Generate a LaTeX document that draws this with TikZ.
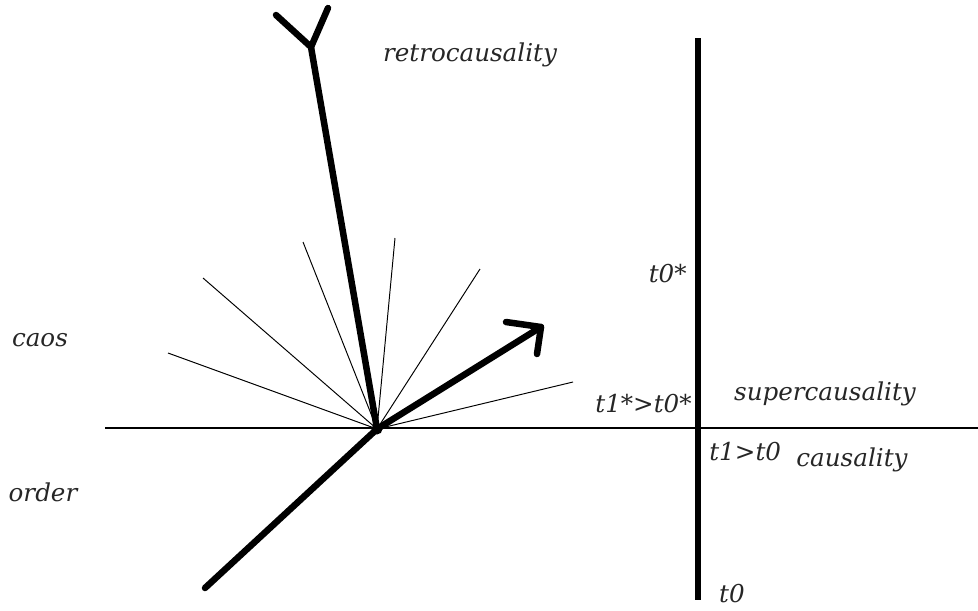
\documentclass[tikz,border=0pt]{standalone}
\usepackage{fontspec}
\setmainfont{DejaVu Serif}
\usetikzlibrary{positioning}

\begin{document}
\begin{tikzpicture}[x=0.02cm, y=-0.02cm,
        lbl/.style={font=\itshape\fontsize{14}{16}\selectfont, text=black!85, inner sep=0pt},
        heavy/.style={line width=3.7pt, line cap=round, line join=round},
        ray/.style={line width=0.55pt}]
    \useasboundingbox (0,0) rectangle (978,610);
    \coordinate (o) at (377,429);
    \coordinate (axl) at (105,428);
    \coordinate (axr) at (978,428);
    \coordinate (ttop) at (698,38);
    \coordinate (tbot) at (698,600);
    \coordinate (past) at (205,588);
    \coordinate (retro) at (311,47);
    \coordinate (yl) at (276,15);
    \coordinate (yr) at (328,8);
    \coordinate (fut) at (541,327);
    \coordinate (bl) at (506,322);
    \coordinate (bd) at (537,354);
    \coordinate (r1) at (168,353);
    \coordinate (r2) at (203,278);
    \coordinate (r3) at (303,242);
    \coordinate (r4) at (395,238);
    \coordinate (r5) at (480,269);
    \coordinate (r6) at (573,382);
    \draw[line width=0.8pt] (axl) -- (axr);
    \draw[line width=2.9pt] (ttop) -- (tbot);
    \foreach \r in {r1,r2,r3,r4,r5,r6}
        \draw[ray] (o) -- (\r);
    \draw[heavy] (past) -- (o);
    \draw[heavy] (o) -- (retro) -- (yl);
    \draw[heavy] (retro) -- (yr);
    \draw[heavy] (o) -- (fut);
    \draw[heavy] (bl) -- (fut) -- (bd);
    \fill (o) circle (5.5);
    \node[lbl] (retrolbl) at (470,55) {retrocausality};
    \node[lbl, anchor=east] (t0s) at (687,274) {t0*};
    \node[lbl] (caos) at (40,340) {caos};
    \node[lbl, anchor=east] (t1s) at (692,404) {t1*>t0*};
    \node[lbl] (super) at (825,394) {supercausality};
    \node[lbl, anchor=west] (t1) at (709,452) {t1>t0};
    \node[lbl] (caus) at (852,460) {causality};
    \node[lbl] (order) at (43,492) {order};
    \node[lbl] (t0) at (732,594) {t0};
\end{tikzpicture}
\end{document}
